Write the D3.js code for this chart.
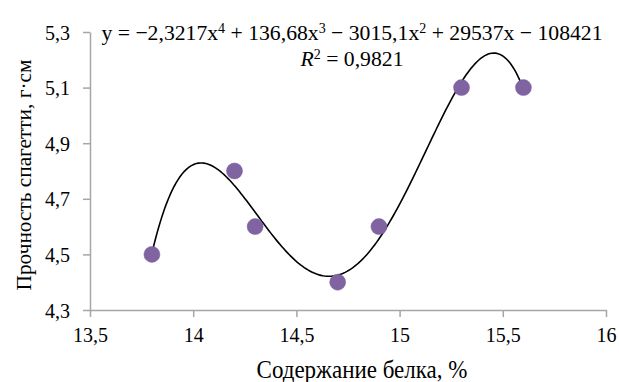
<!DOCTYPE html>
<html>
<head>
<meta charset="utf-8">
<script src="https://cdn.jsdelivr.net/npm/d3@7"></script>
<style>
  body { margin: 0; background: #fff; }
  svg text { font-family: "Liberation Serif", "Times New Roman", serif; fill: #000; }
</style>
</head>
<body>
<div id="chart"></div>
<script>
// data
const protein = [13.8, 14.2, 14.3, 14.7, 14.9, 15.3, 15.6];
const strength = [4.5, 4.8, 4.6, 4.4, 4.6, 5.1, 5.1];
const xTicks = [13.5, 14, 14.5, 15, 15.5, 16];
const yTicks = [4.3, 4.5, 4.7, 4.9, 5.1, 5.3];

const W = 619, H = 382;
const margin = { top: 32, right: 13, bottom: 72, left: 90 };
const width = W - margin.left - margin.right;
const height = H - margin.top - margin.bottom;
const SERIF = '"Liberation Serif", "Times New Roman", serif';

const svg = d3.select("#chart").append("svg")
  .attr("width", W).attr("height", H);

const g = svg.append("g")
  .attr("transform", `translate(${margin.left},${margin.top})`);

const x = d3.scaleLinear().domain([13.5, 16]).range([0, width]);
const y = d3.scaleLinear().domain([4.3, 5.3]).range([height, 0]);

const fmt = d => String(d).replace(".", ",");

// axes
const xAxis = g.append("g")
  .attr("transform", `translate(0,${height})`)
  .call(d3.axisBottom(x).tickValues(xTicks).tickFormat(fmt).tickSize(7).tickSizeOuter(0));
const yAxis = g.append("g")
  .call(d3.axisLeft(y).tickValues(yTicks).tickFormat(fmt).tickSize(7).tickSizeOuter(0));

[xAxis, yAxis].forEach(a => {
  a.attr("font-family", SERIF);
  a.select(".domain").attr("stroke", "#a6a6a6").attr("stroke-width", 1.5);
  a.selectAll(".tick line").attr("stroke", "#a6a6a6").attr("stroke-width", 1.5);
  a.selectAll(".tick text")
    .style("font-size", "20px").attr("fill", "#000");
});
xAxis.selectAll(".tick text").attr("dy", "1.1em");
yAxis.selectAll(".tick text").attr("x", -20).attr("dy", "0.35em");

// polynomial trendline (order 4), least squares on the points above
function polyFit(xs, ys, order) {
  const c = d3.mean(xs);
  const n = order + 1;
  const A = Array.from({ length: n }, () => new Array(n + 1).fill(0));
  xs.forEach((xv, i) => {
    const t = xv - c;
    for (let r = 0; r < n; r++) {
      for (let k = 0; k < n; k++) A[r][k] += Math.pow(t, r + k);
      A[r][n] += Math.pow(t, r) * ys[i];
    }
  });
  for (let p = 0; p < n; p++) {
    let m = p;
    for (let r = p + 1; r < n; r++) if (Math.abs(A[r][p]) > Math.abs(A[m][p])) m = r;
    [A[p], A[m]] = [A[m], A[p]];
    for (let r = 0; r < n; r++) {
      if (r === p) continue;
      const f = A[r][p] / A[p][p];
      for (let k = p; k <= n; k++) A[r][k] -= f * A[p][k];
    }
  }
  const coef = A.map((row, i) => row[n] / row[i]);
  return xv => coef.reduce((s, a, i) => s + a * Math.pow(xv - c, i), 0);
}

const trend = polyFit(protein, strength, 4);
const lo = d3.min(protein), hi = d3.max(protein);
const curve = d3.range(0, 201).map(i => {
  const xv = lo + (hi - lo) * i / 200;
  return [xv, trend(xv)];
});

g.append("path")
  .datum(curve)
  .attr("fill", "none")
  .attr("stroke", "#000")
  .attr("stroke-width", 1.6)
  .attr("d", d3.line().x(d => x(d[0])).y(d => y(d[1])));

// points
g.selectAll(".pt")
  .data(protein)
  .enter().append("circle")
  .attr("class", "pt")
  .attr("cx", d => x(d))
  .attr("cy", (d, i) => y(strength[i]))
  .attr("r", 8)
  .attr("fill", "#8064a2")
  .attr("stroke", "#7a5e9c")
  .attr("stroke-width", 0.5);

// equation
const eq = svg.append("text")
  .attr("x", 352).attr("y", 40)
  .attr("text-anchor", "middle")
  .style("font-size", "21.7px");
const parts = [
  ["y = \u22122,3217x", false], ["4", true],
  [" + 136,68x", false], ["3", true],
  [" \u2212 3015,1x", false], ["2", true],
  [" + 29537x \u2212 108421", false]
];
parts.forEach(([t, sup], i) => {
  const s = eq.append("tspan").text(t);
  if (sup) s.style("font-size", "14px").attr("dy", -7);
  else if (i > 0) s.attr("dy", 7);
});

const r2 = svg.append("text")
  .attr("x", 352).attr("y", 66)
  .attr("text-anchor", "middle")
  .style("font-size", "21.7px");
r2.append("tspan").style("font-style", "italic").text("R");
r2.append("tspan").style("font-size", "14px").attr("dy", -7).text("2");
r2.append("tspan").attr("dy", 7).text(" = 0,9821");

// axis titles
svg.append("text")
  .attr("transform", "translate(362,378) scale(1,1.08)")
  .attr("text-anchor", "middle")
  .style("font-size", "23px")
  .text("Содержание белка, %");

svg.append("text")
  .attr("transform", "translate(31,175) rotate(-90)")
  .attr("text-anchor", "middle")
  .style("font-size", "21.3px")
  .text("Прочность спагетти, г\u00b7см");
</script>
</body>
</html>
